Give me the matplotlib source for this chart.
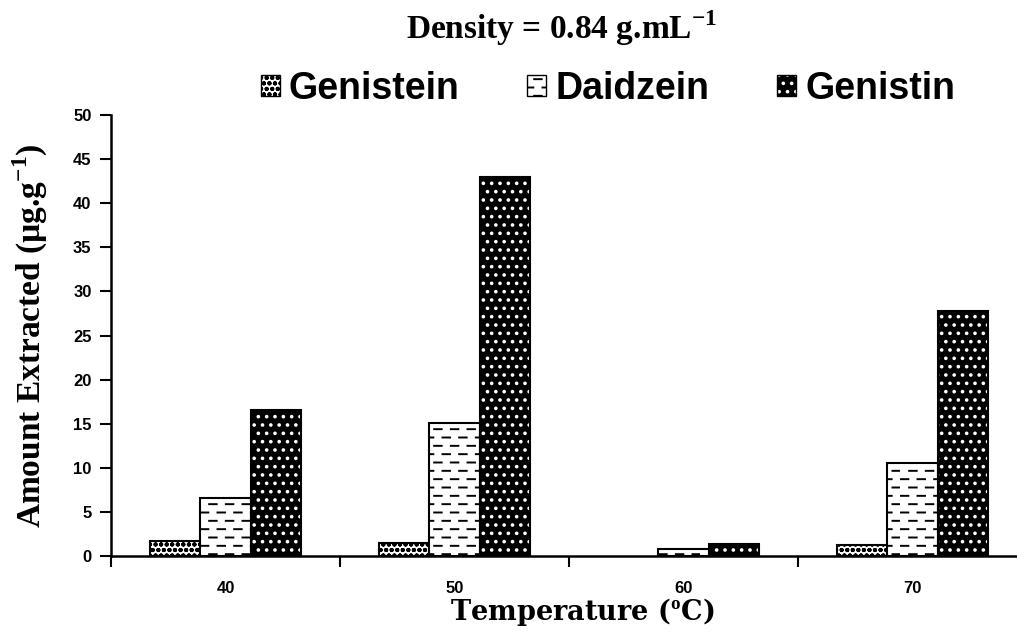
import numpy as np
import matplotlib
matplotlib.use("Agg")
import matplotlib.pyplot as plt
import matplotlib.hatch as mhatch
from matplotlib.path import Path
from matplotlib.patches import Patch
from matplotlib.legend_handler import HandlerTuple

# ---------------- data ----------------
temperatures = ["40", "50", "60", "70"]
series_names = ["Genistein", "Daidzein", "Genistin"]
genistein = [1.7, 1.5, 0.0, 1.3]
daidzein = [6.6, 15.1, 0.8, 10.5]
genistin = [16.6, 43.0, 1.4, 27.8]
y_ticks = [0, 5, 10, 15, 20, 25, 30, 35, 40, 45, 50]


# ---------------- custom staggered dash hatch ('d') ----------------
class DashHatch(mhatch.HatchPatternBase):
    def __init__(self, hatch, density):
        n = hatch.count('d')
        self.rows = int(n * density)
        self.cols = max(1, self.rows // 2)
        self.num_lines = self.rows * self.cols if n else 0
        self.num_vertices = self.num_lines * 2

    def set_vertices_and_codes(self, vertices, codes):
        k = 0
        for i in range(self.rows):
            y = (i + 0.5) / self.rows
            off = 0.5 if i % 2 else 0.0
            for j in range(self.cols):
                x0 = (j + off + 0.05) / self.cols
                x1 = (j + off + 0.5) / self.cols
                vertices[k] = (x0, y)
                vertices[k + 1] = (x1, y)
                codes[k] = Path.MOVETO
                codes[k + 1] = Path.LINETO
                k += 2


mhatch._hatch_types.append(DashHatch)
mhatch._validate_hatch_pattern = lambda h: None

plt.rcParams['hatch.linewidth'] = 1.4
plt.rcParams['mathtext.fontset'] = 'custom'
plt.rcParams['mathtext.rm'] = 'Liberation Serif'
plt.rcParams['mathtext.bf'] = 'Liberation Serif:bold'

TIMES = 'Liberation Serif'
SERIF = 'DejaVu Serif'
SANS = 'Liberation Sans'

fig = plt.figure(figsize=(10.17, 6.36), dpi=100)
ax = fig.add_axes([111 / 1017, 80 / 636, 1 - 111 / 1017, 441 / 636])

x = np.arange(len(temperatures))
w = 0.22


def lw_for(vals, lw):
    return [lw if v > 0 else 0 for v in vals]


ax.bar(x - w, genistein, w, facecolor='white', edgecolor='black',
       linewidth=lw_for(genistein, 1.5), hatch='ooo')
ax.bar(x, daidzein, w, facecolor='white', edgecolor='black',
       linewidth=lw_for(daidzein, 1.5), hatch='dd')
ax.bar(x + w, genistin, w, facecolor='black', edgecolor='white',
       linewidth=0, hatch='..')
ax.bar(x + w, genistin, w, fill=False, edgecolor='black',
       linewidth=lw_for(genistin, 1.5))

ax.set_xlim(-0.5, -0.5 + 906 / 229)
ax.set_ylim(0, 50)
ax.set_yticks(y_ticks)
ax.set_xticks([-0.5, 0.5, 1.5, 2.5])
ax.set_xticklabels([])
ax.set_xticks(x, minor=True)
ax.set_xticklabels(temperatures, minor=True)
ax.tick_params(axis='x', which='minor', length=0, pad=18)
ax.tick_params(axis='x', which='major', length=8, width=1.5, direction='out')
ax.tick_params(axis='y', length=8, width=1.5, direction='out', pad=6)

for lab in ax.get_yticklabels() + ax.get_xticklabels(minor=True):
    lab.set_fontfamily(SANS)
    lab.set_fontweight('bold')
    lab.set_fontsize(12)

for s in ['top', 'right']:
    ax.spines[s].set_visible(False)
for s in ['left', 'bottom']:
    ax.spines[s].set_linewidth(1.8)

ax.set_ylabel(r'Amount Extracted (µg.g$^{\mathbf{-1}}$)', fontfamily=TIMES,
              fontweight='bold', fontsize=24)
ax.yaxis.set_label_coords((30 - 111) / 906, (556 - 336) / 441)
ax.yaxis.label.set_va('center')
ax.set_xlabel(r'Temperature ($^{\mathbf{o}}$C)', fontfamily=SERIF,
              fontweight='bold', fontsize=19.5)
ax.xaxis.set_label_coords((582 - 111) / 906, -(612 - 556) / 441)
ax.xaxis.label.set_va('center')

fig.text(562 / 1017, 1 - 39 / 636, r'Density = 0.84 g.mL$^{\mathbf{-1}}$',
         fontfamily=TIMES, fontweight='bold', fontsize=24,
         ha='center', va='baseline')

h1 = Patch(facecolor='white', edgecolor='black', linewidth=1, hatch='ooo')
h2 = Patch(facecolor='white', edgecolor='black', linewidth=1, hatch='dd')
h3 = (Patch(facecolor='black', edgecolor='white', linewidth=0, hatch='..'),
      Patch(fill=False, edgecolor='black', linewidth=1))
leg = fig.legend([h1, h2, h3], series_names, loc='center',
                 bbox_to_anchor=(608 / 1017, 1 - 89 / 636), ncol=3, frameon=False,
                 handlelength=0.5, handleheight=0.5, handletextpad=0.25,
                 columnspacing=1.8,
                 handler_map={tuple: HandlerTuple(ndivide=1, pad=0)},
                 prop={'family': SANS, 'weight': 'bold', 'size': 27})

fig.savefig('out.png', dpi=100)
